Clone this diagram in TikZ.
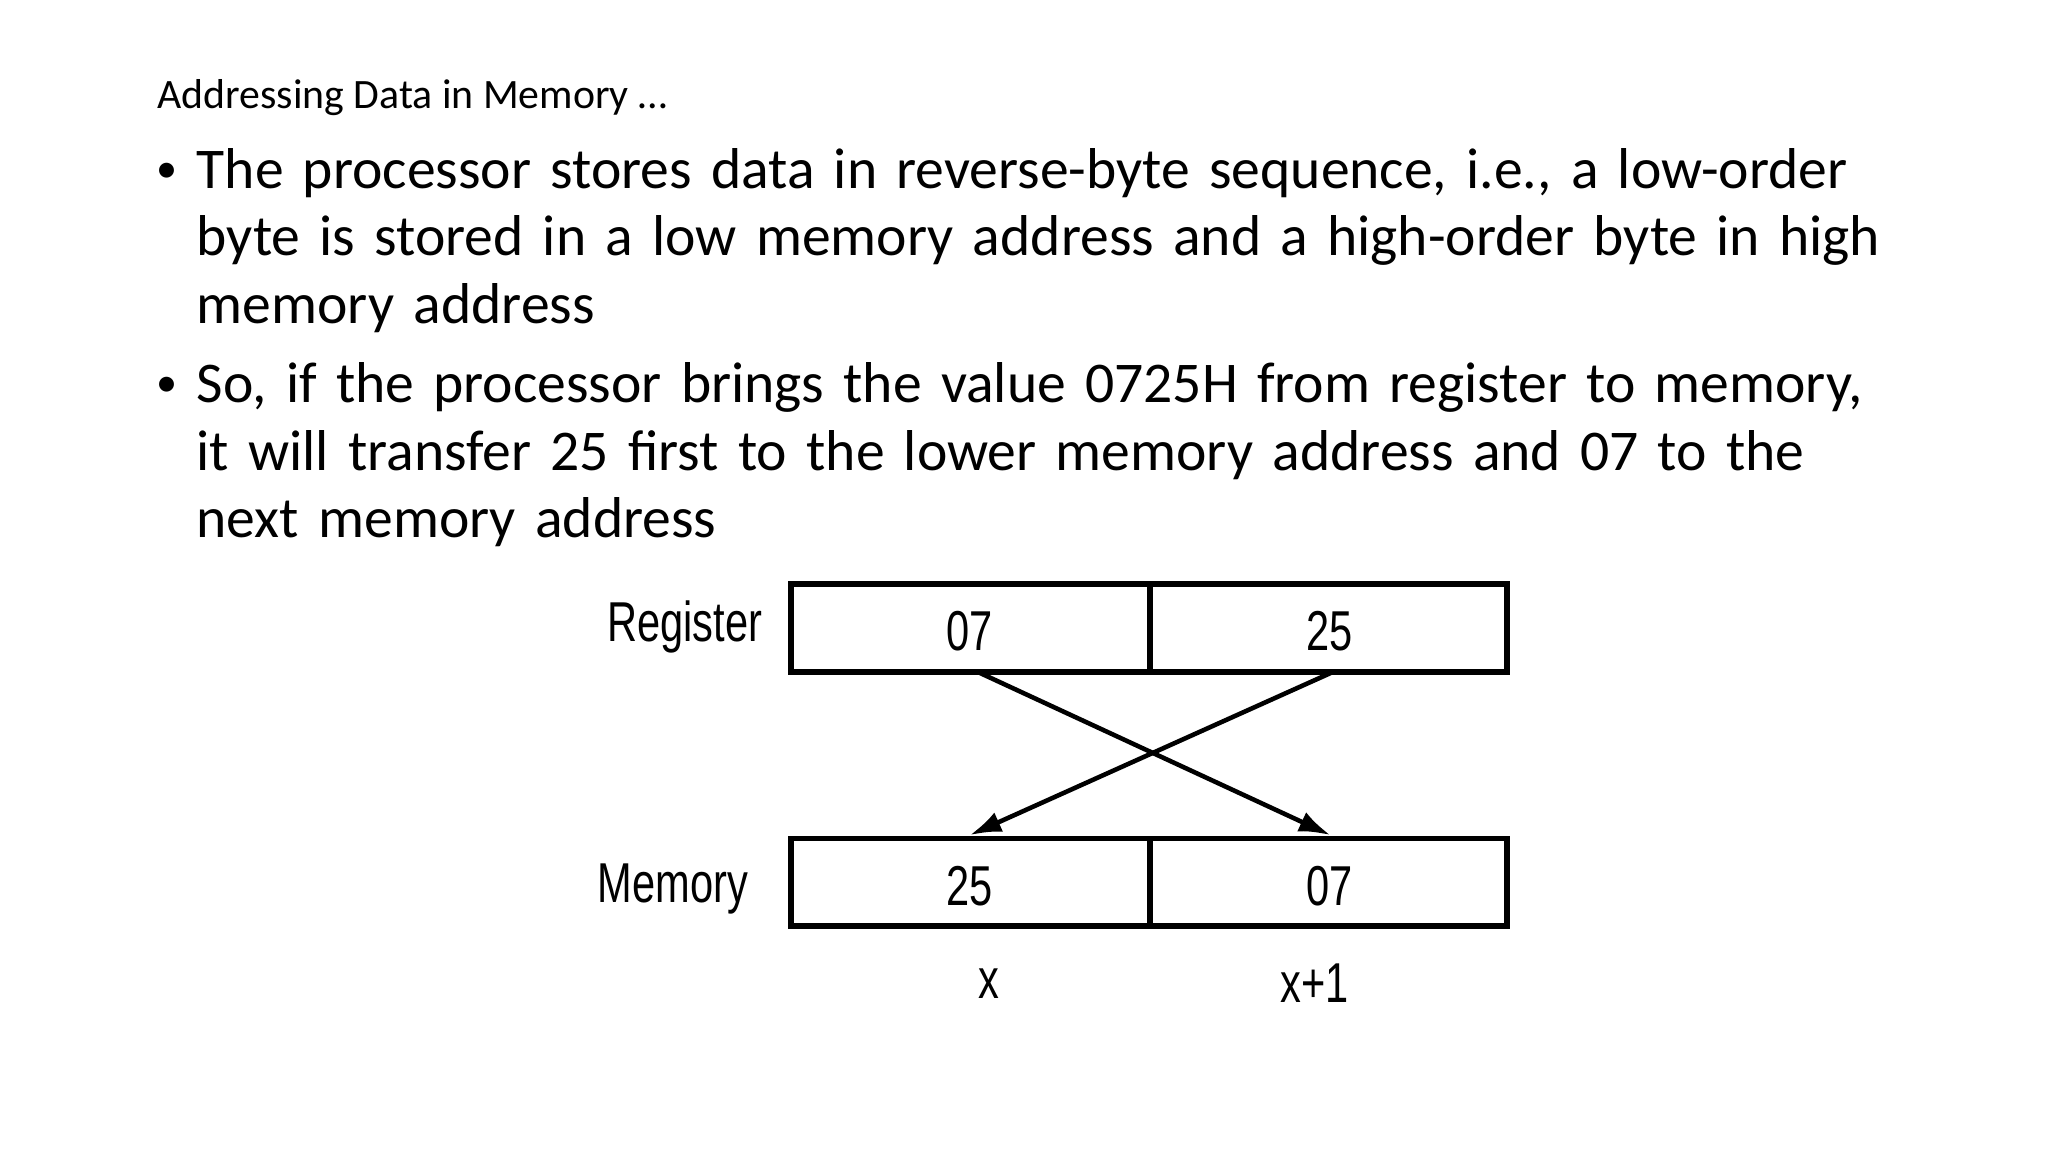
\documentclass[tikz,border=0pt]{standalone}
\usepackage{fontspec}
\setmainfont{Carlito}
\newfontfamily\narrowf{Liberation Sans}
\usetikzlibrary{arrows.meta}
\begin{document}
\begin{tikzpicture}[x=0.01307cm,y=-0.01307cm,
  cell/.style={draw,line width=1.6pt,minimum height=0.01307cm*67,inner sep=0},
  dlab/.style={font=\narrowf\fontsize{16}{19}\selectfont,xscale=0.74},
  arr/.style={line width=1.3pt,-{Latex[length=9pt,width=6pt]}},
  bl/.style={anchor=north west,align=left,text width=0.01307cm*1290,inner sep=0,font=\fontsize{16.4}{19.2}\selectfont}]
\useasboundingbox (0,0) rectangle (1567,881);
\node[anchor=west,inner sep=0,font=\fontsize{11.9}{14}\selectfont] (title) at (120,75) {Addressing Data in Memory …};
\node[inner sep=0,font=\fontsize{12}{14}\selectfont] (b1) at (128,132) {•};
\node[bl] (t1) at (150,113) {The processor stores data in reverse-byte sequence, i.e., a low-order byte is stored in a low memory address and a high-order byte in high memory address};
\node[inner sep=0,font=\fontsize{12}{14}\selectfont] (b2) at (128,296) {•};
\node[bl] (t2) at (150,277) {So, if the processor brings the value 0725H from register to memory, it will transfer 25 first to the lower memory address and 07 to the next memory address};
\node[cell,minimum width=0.01307cm*275] (r1) at (742.5,480.5) {};
\node[cell,minimum width=0.01307cm*273] (r2) at (1016.5,480.5) {};
\node[cell,minimum width=0.01307cm*275] (m1) at (742.5,675) {};
\node[cell,minimum width=0.01307cm*273] (m2) at (1016.5,675) {};
\node[dlab] (r1t) at (742,483) {07};
\node[dlab] (r2t) at (1017,483) {25};
\node[dlab] (m1t) at (742,678) {25};
\node[dlab] (m2t) at (1017,678) {07};
\node[dlab] (rl) at (524,480) {Register};
\node[dlab] (ml) at (515,680) {Memory};
\node[dlab] (xl) at (757,753) {x};
\node[dlab] (x1l) at (1006,752) {x+1};
\coordinate (s1) at (750,515); \coordinate (e1) at (1018,639);
\coordinate (s2) at (1018,515); \coordinate (e2) at (742,639);
\draw[arr] (s1) -- (e1);
\draw[arr] (s2) -- (e2);
\end{tikzpicture}
\end{document}
